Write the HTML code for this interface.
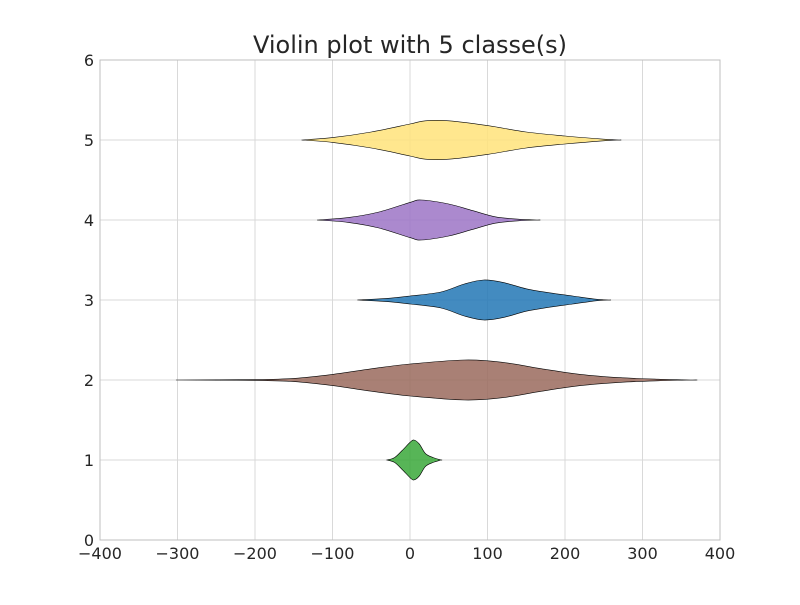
<!DOCTYPE html>
<html><head><meta charset="utf-8"><style>
body{margin:0;background:#fff}
svg text{font-family:"DejaVu Sans","Liberation Sans",sans-serif;fill:#262626}
</style></head><body>
<svg id="chart" width="800" height="600">
<rect width="800" height="600" fill="#fff"/>
<text x="410" y="53" text-anchor="middle" font-size="24">Violin plot with 5 classe(s)</text>
<g id="grid"></g>
<g id="violins"></g>
<rect x="100" y="60" width="620" height="480" fill="none" stroke="#bfbfbf" stroke-width="1"/>
<g id="ticks"></g>
</svg>
<script>
const classes=[1,2,3,4,5];
const colors=["#3aa83a","#9a6a5d","#2277b5","#9c74c6","#ffe37a"];
const xs1=[-30,-20,-10,0,5,12,20,30,40];
const ws1=[0,0.03,0.12,0.22,0.25,0.2,0.08,0.03,0];
const xs2=[-302,-200,-150,-100,-50,0,70,120,170,220,270,320,365];
const ws2=[0,0.005,0.02,0.07,0.14,0.2,0.25,0.22,0.14,0.07,0.03,0.01,0];
const xs3=[-68,-30,0,40,70,95,120,150,180,210,240,257];
const ws3=[0,0.02,0.05,0.1,0.2,0.25,0.22,0.14,0.09,0.05,0.01,0];
const xs4=[-120,-80,-40,0,15,50,80,110,140,165];
const ws4=[0,0.03,0.1,0.22,0.25,0.2,0.12,0.04,0.01,0];
const xs5=[-140,-100,-50,0,20,50,100,150,200,250,270];
const ws5=[0,0.03,0.1,0.2,0.24,0.24,0.18,0.1,0.05,0.01,0];
const xTicks=[-400,-300,-200,-100,0,100,200,300,400];
const yTicks=[0,1,2,3,4,5,6];
const X=v=>410+v*0.775, Y=v=>540-v*80;
const NS="http://www.w3.org/2000/svg";
const grid=document.getElementById('grid'),tk=document.getElementById('ticks'),vg=document.getElementById('violins');
xTicks.forEach(t=>{
 const l=document.createElementNS(NS,'line');l.setAttribute('x1',X(t));l.setAttribute('x2',X(t));l.setAttribute('y1',60);l.setAttribute('y2',540);l.setAttribute('stroke','#d9d9d9');
 
 
 grid.appendChild(l);
 const s=document.createElementNS(NS,'text');s.setAttribute('x',X(t));s.setAttribute('y',559);s.setAttribute('text-anchor','middle');s.setAttribute('font-size','16');s.textContent=(t<0?'\u2212'+(-t):t);
 
 
 tk.appendChild(s);
});
yTicks.forEach(t=>{
 const l=document.createElementNS(NS,'line');l.setAttribute('x1',100);l.setAttribute('x2',720);l.setAttribute('y1',Y(t));l.setAttribute('y2',Y(t));l.setAttribute('stroke','#d9d9d9');
 
 
 grid.appendChild(l);
 const s=document.createElementNS(NS,'text');s.setAttribute('x',94);s.setAttribute('y',Y(t)+6);s.setAttribute('text-anchor','end');s.setAttribute('font-size','16');s.textContent=t;
 
 
 tk.appendChild(s);
});
const allX=[xs1,xs2,xs3,xs4,xs5],allW=[ws1,ws2,ws3,ws4,ws5];
classes.forEach((c,i)=>{
 const xs=allX[i],ws=allW[i];
 const top=xs.map((x,j)=>[X(x),Y(c+ws[j])]);
 const bot=xs.map((x,j)=>[X(x),Y(c-ws[j])]).reverse();
 const pts=top.concat(bot);
 let d='M'+pts[0].join(',');
 for(let k=0;k<pts.length-1;k++){
  const p0=pts[Math.max(k-1,0)],p1=pts[k],p2=pts[k+1],p3=pts[Math.min(k+2,pts.length-1)];
  const c1=[p1[0]+(p2[0]-p0[0])/6,p1[1]+(p2[1]-p0[1])/6],c2=[p2[0]-(p3[0]-p1[0])/6,p2[1]-(p3[1]-p1[1])/6];
  d+=' C'+c1.join(',')+' '+c2.join(',')+' '+p2.join(',');
 }
 d+='Z';
 const p=document.createElementNS(NS,'path');p.setAttribute('d',d);p.setAttribute('fill',colors[i]);p.setAttribute('fill-opacity','0.85');p.setAttribute('stroke','#000');p.setAttribute('stroke-width','0.6');
 
 
 vg.appendChild(p);
});
</script>
</body></html>
